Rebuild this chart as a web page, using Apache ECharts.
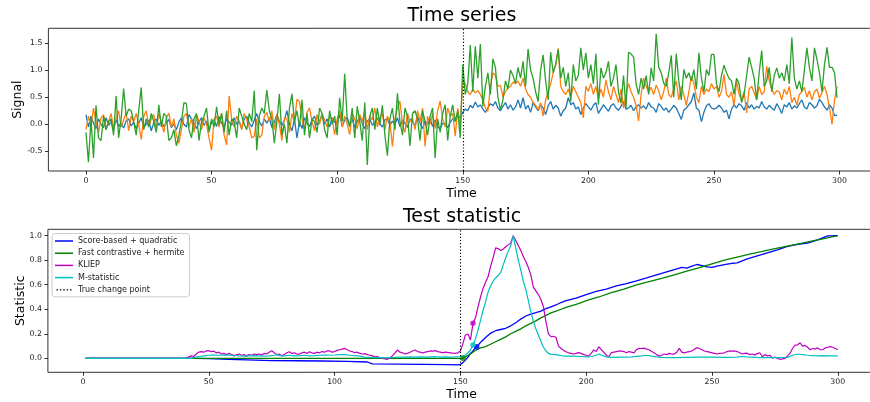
<!DOCTYPE html>
<html><head><meta charset="utf-8">
<script src="https://cdn.jsdelivr.net/npm/echarts@6/dist/echarts.min.js"></script>
<style>html,body{margin:0;padding:0;background:#fff}#c{width:870px;height:402px}</style>
</head><body><div id="c"></div>
<script>
// ---------- Top panel: time series (t = 0..299) ----------
const signalBlue = [
0.18,-0.05,0.15,0.02,-0.08,0.10,0.00,-0.06,0.12,-0.02,
0.05,-0.10,0.08,-0.04,0.02,-0.07,0.06,0.10,-0.03,0.04,
-0.08,0.02,0.12,-0.05,0.00,0.08,-0.12,0.03,0.10,-0.02,
0.06,-0.04,0.02,0.09,-0.06,0.01,-0.10,0.04,0.12,0.00,
-0.05,0.18,0.10,0.02,-0.08,0.05,0.12,-0.02,0.06,-0.10,
0.03,0.08,-0.04,0.14,0.02,-0.06,0.10,0.04,-0.02,0.12,
0.00,0.06,-0.08,0.10,0.15,0.02,-0.05,0.08,0.20,0.05,
-0.03,0.10,0.02,0.12,-0.06,0.04,0.18,0.06,-0.02,0.08,
0.25,0.00,-0.12,0.10,-0.25,0.05,-0.08,0.12,0.02,-0.04,
0.08,0.15,-0.02,0.06,0.18,0.00,0.10,-0.05,0.12,0.04,
0.02,0.18,-0.04,0.08,0.12,0.00,0.10,-0.06,0.05,0.14,
0.02,-0.08,0.06,0.10,-0.02,0.04,0.12,0.00,-0.05,0.08,
0.10,-0.02,0.06,0.00,0.12,-0.04,0.08,0.02,-0.06,0.10,
0.05,-0.02,0.14,0.02,-0.08,0.06,0.00,0.10,-0.04,0.08,
-0.05,-0.08,0.02,0.00,-0.06,0.04,0.10,0.06,0.18,0.12,
0.22,0.28,0.25,0.35,0.30,0.41,0.32,0.36,0.28,0.22,
0.30,0.38,0.34,0.42,0.30,0.25,0.33,0.40,0.28,0.36,
0.26,0.32,0.45,0.30,0.49,0.28,0.35,0.22,0.40,0.32,
0.25,0.36,0.30,0.18,0.34,0.42,0.28,0.35,0.30,0.15,
0.25,0.30,0.49,0.36,0.40,0.28,0.32,0.18,0.30,0.38,
0.32,0.26,0.35,0.40,0.20,0.28,0.36,0.30,0.24,0.34,
0.38,0.30,0.26,0.33,0.42,0.28,0.30,0.35,0.25,0.32,
0.36,0.30,0.34,0.28,0.40,0.32,0.30,0.22,0.38,0.33,
0.26,0.30,0.22,0.28,0.35,0.30,0.20,0.09,0.26,0.30,
0.36,0.42,0.58,0.30,0.26,0.05,0.22,0.34,0.38,0.30,
0.28,0.30,0.35,0.30,0.22,0.26,0.10,0.28,0.36,0.30,
0.38,0.34,0.26,0.40,0.30,0.36,0.28,0.33,0.30,0.42,
0.32,0.28,0.35,0.30,0.26,0.38,0.30,0.20,0.36,0.32,
0.40,0.28,0.34,0.30,0.38,0.45,0.32,0.28,0.40,0.36,
0.30,0.34,0.46,0.40,0.32,0.26,0.36,0.30,0.16,0.17
];
const signalOrange = [
-0.10,0.15,-0.05,0.30,0.05,-0.15,0.12,0.18,-0.10,0.05,
0.20,-0.08,0.10,0.25,-0.05,0.08,0.22,-0.12,0.15,0.05,
0.20,0.00,-0.28,0.15,0.25,-0.05,0.10,0.18,-0.10,0.20,
0.05,-0.15,0.12,0.20,-0.05,0.10,-0.20,-0.35,-0.10,0.15,
0.20,-0.05,0.10,-0.15,0.18,0.05,-0.10,0.12,0.00,-0.25,
-0.48,0.10,0.15,-0.05,0.20,-0.20,-0.38,0.52,0.10,-0.05,
0.15,0.05,-0.10,0.20,0.08,-0.05,-0.25,-0.22,0.10,-0.25,
-0.20,0.15,0.22,0.05,0.25,-0.10,0.18,0.00,-0.30,0.12,
0.10,-0.15,0.20,0.05,0.46,0.42,0.10,-0.10,0.22,0.30,
0.05,-0.12,0.18,0.00,0.20,0.08,-0.05,0.15,0.10,-0.19,
0.10,0.25,-0.05,0.15,0.00,-0.19,0.20,0.10,-0.08,0.18,
0.05,0.25,-0.10,0.15,0.08,0.30,-0.05,0.12,0.20,-0.10,
0.15,0.05,-0.41,0.10,0.30,0.43,0.00,-0.15,0.20,0.05,
0.12,-0.10,0.25,0.05,0.30,-0.41,0.15,0.00,0.20,-0.08,
0.25,0.43,0.10,-0.05,0.30,0.15,0.20,-0.22,0.30,-0.07,
0.82,0.75,0.60,0.55,0.65,0.58,0.62,0.55,0.45,0.30,
0.24,0.70,0.95,0.90,0.70,0.72,0.50,0.60,0.67,0.70,
0.78,0.75,0.80,0.70,0.85,0.65,0.55,0.50,0.40,0.35,
0.27,0.40,0.15,0.45,0.60,0.75,0.95,1.10,1.40,0.70,
0.60,0.55,0.65,0.50,0.70,0.60,0.50,0.40,0.12,0.70,
0.61,0.75,0.55,0.70,0.48,0.65,0.50,0.82,0.60,0.45,
0.70,0.55,0.40,0.65,0.30,0.55,0.75,0.60,0.50,0.35,
0.06,0.55,0.85,0.70,0.60,0.68,0.55,0.72,0.62,0.45,
0.60,0.85,0.55,0.50,0.65,0.80,0.45,0.70,0.55,0.35,
0.60,0.88,0.75,0.50,0.40,0.70,0.55,0.65,0.60,0.75,
0.65,0.70,0.50,0.60,0.92,0.55,0.50,0.60,0.35,0.80,
0.55,0.45,0.60,0.21,0.65,0.70,0.58,0.45,0.70,0.55,
0.60,1.07,0.80,0.65,0.55,0.62,0.60,0.45,0.65,0.55,
0.70,0.40,0.50,0.35,0.55,0.60,0.68,0.50,0.62,0.45,
0.60,0.65,0.48,0.58,0.70,0.55,0.30,0.00,0.45,0.70
];
const signalGreen = [
-0.15,-0.70,0.10,-0.62,0.35,-0.25,-0.30,0.15,-0.10,0.05,
0.10,-0.20,0.52,-0.25,0.10,0.66,0.15,0.28,0.25,0.05,
-0.20,0.25,0.68,-0.10,0.10,-0.05,0.20,0.05,-0.15,0.36,
-0.05,0.20,0.15,-0.30,-0.25,-0.10,-0.40,-0.20,0.05,0.40,
0.38,-0.10,-0.25,0.10,0.20,-0.30,0.05,0.15,0.30,-0.15,
0.10,-0.05,0.32,0.00,0.20,-0.15,0.25,-0.20,0.10,0.05,
-0.25,0.30,0.15,0.00,-0.10,0.20,0.05,0.62,-0.48,0.15,
0.30,0.20,0.63,0.25,0.10,-0.35,0.05,0.56,-0.20,0.00,
-0.35,0.30,0.56,0.05,0.25,-0.05,0.45,-0.20,0.20,-0.25,
0.10,0.05,-0.15,0.30,0.20,-0.10,-0.25,0.25,0.00,0.15,
-0.20,0.49,0.05,0.93,0.10,-0.05,0.30,-0.25,0.33,0.05,
-0.30,0.40,-0.75,0.15,0.30,-0.10,0.30,0.00,0.35,-0.20,
-0.58,0.10,0.30,-0.10,0.57,0.05,-0.20,0.30,0.15,-0.40,
0.20,0.25,0.10,-0.30,0.25,0.05,-0.20,0.15,0.30,-0.62,
0.10,-0.15,0.20,0.36,-0.30,0.15,0.36,0.05,0.25,-0.25,
1.10,0.55,0.75,1.46,0.60,1.44,0.85,1.48,0.33,0.70,
0.95,0.55,1.21,1.05,0.50,0.27,0.45,0.80,0.65,1.00,
0.90,0.75,1.05,0.85,1.16,0.70,1.39,1.00,0.85,0.60,
0.42,1.00,1.28,0.80,0.45,1.33,0.95,1.10,1.38,0.85,
1.05,0.70,0.95,0.42,1.10,0.80,0.90,1.41,1.00,1.32,
0.85,1.10,0.75,1.30,0.36,1.04,0.85,0.95,1.16,0.70,
0.85,1.10,0.60,0.39,0.90,0.30,1.33,1.30,1.24,0.75,
0.55,0.85,0.65,0.90,0.55,1.04,0.80,1.67,1.05,0.95,
0.76,0.70,0.95,1.27,0.50,1.30,0.80,0.45,1.01,0.85,
0.95,0.80,1.01,0.65,1.32,0.85,0.60,1.01,0.90,1.29,
1.29,0.75,0.60,0.90,1.09,0.95,0.85,0.80,0.55,0.85,
0.75,0.40,0.55,0.90,1.24,1.05,0.85,0.45,0.95,1.36,
0.70,0.80,1.05,0.60,0.90,1.04,0.85,0.95,0.80,1.10,
0.75,1.60,0.85,0.65,0.80,0.60,1.00,1.41,1.05,0.80,
1.41,1.20,0.95,0.60,1.10,1.42,1.05,1.05,0.95,0.49
];
const timeTicks = [0,50,100,150,200,250,300];
const signalTicks = [-0.5,0,0.5,1,1.5];
const statTicks = [0,0.2,0.4,0.6,0.8,1.0];
const changePoint = 150;

// ---------- Bottom panel: test statistic, [time, value] ----------
const scoreBased = [[1,0],[44,0],[50,-0.003],[58,-0.008],[65,-0.012],[75,-0.018],[85,-0.02],[95,-0.022],[105,-0.025],[113,-0.03],[115,-0.046],[125,-0.048],[135,-0.05],[145,-0.052],[149,-0.054],[150,-0.05],[151,-0.035],[152,-0.015],[153,0.01],[154,0.04],[155,0.06],[156,0.09],[157,0.105],[158,0.13],[159,0.15],[160,0.17],[162,0.205],[164,0.225],[166,0.235],[168,0.245],[170,0.265],[172,0.29],[174,0.32],[176,0.345],[178,0.36],[180,0.372],[182,0.385],[184,0.405],[186,0.42],[188,0.435],[190,0.455],[192,0.47],[194,0.48],[196,0.49],[198,0.505],[200,0.52],[204,0.545],[208,0.565],[212,0.59],[216,0.61],[220,0.632],[224,0.655],[228,0.68],[232,0.705],[236,0.73],[238,0.742],[240,0.735],[242,0.752],[244,0.765],[246,0.755],[248,0.745],[250,0.742],[252,0.752],[254,0.76],[256,0.768],[258,0.775],[260,0.778],[264,0.81],[268,0.835],[272,0.86],[276,0.885],[280,0.912],[284,0.93],[288,0.94],[292,0.965],[296,0.998],[300,1.0]];
const fastContrastive = [[1,0],[150,0],[151,0.0],[152,0.012],[154,0.035],[156,0.065],[158,0.085],[160,0.095],[162,0.115],[164,0.135],[166,0.155],[168,0.175],[170,0.2],[172,0.22],[174,0.24],[176,0.265],[178,0.285],[180,0.305],[182,0.33],[184,0.35],[186,0.37],[188,0.385],[190,0.4],[192,0.415],[194,0.428],[196,0.44],[198,0.455],[200,0.47],[205,0.5],[210,0.535],[215,0.565],[220,0.598],[225,0.625],[230,0.652],[235,0.68],[240,0.71],[245,0.74],[250,0.77],[255,0.8],[260,0.825],[265,0.85],[270,0.872],[275,0.895],[280,0.915],[285,0.935],[290,0.958],[295,0.978],[300,1.0]];
const kliep = [[1,0],[41,0],[42,0.012],[43,0.02],[44,0.015],[45,0.035],[46,0.05],[47,0.055],[48,0.05],[49,0.06],[50,0.062],[51,0.055],[52,0.058],[53,0.045],[54,0.05],[55,0.035],[56,0.04],[57,0.03],[58,0.042],[59,0.03],[60,0.02],[61,0.028],[62,0.035],[63,0.025],[64,0.03],[65,0.02],[66,0.03],[67,0.025],[68,0.035],[69,0.03],[70,0.035],[71,0.028],[72,0.04],[73,0.035],[74,0.05],[75,0.062],[76,0.045],[77,0.03],[78,0.035],[79,0.02],[80,0.03],[81,0.045],[82,0.054],[83,0.04],[84,0.045],[85,0.035],[86,0.035],[87,0.045],[88,0.05],[89,0.04],[90,0.054],[91,0.045],[92,0.04],[93,0.05],[94,0.045],[95,0.055],[96,0.05],[97,0.06],[98,0.06],[99,0.05],[100,0.055],[101,0.065],[102,0.07],[103,0.075],[104,0.081],[105,0.07],[106,0.06],[107,0.055],[108,0.046],[109,0.05],[110,0.04],[111,0.035],[112,0.038],[113,0.03],[114,0.025],[115,0.02],[116,0.013],[117,0.015],[118,0.005],[119,0.0],[120,-0.005],[121,-0.008],[122,0.005],[123,0.02],[124,0.045],[125,0.068],[126,0.05],[127,0.045],[128,0.035],[129,0.04],[130,0.05],[131,0.06],[132,0.068],[133,0.055],[134,0.05],[135,0.045],[136,0.05],[137,0.055],[138,0.06],[139,0.058],[140,0.063],[141,0.055],[142,0.05],[143,0.045],[144,0.05],[145,0.048],[146,0.045],[147,0.042],[148,0.04],[149,0.045],[150,0.06],[151,0.12],[152,0.19],[153,0.198],[154,0.15],[155,0.285],[156,0.33],[157,0.42],[158,0.5],[159,0.57],[160,0.62],[161,0.665],[162,0.75],[163,0.82],[164,0.9],[165,0.895],[166,0.88],[167,0.89],[168,0.91],[169,0.925],[170,0.94],[171,1.0],[172,0.96],[173,0.92],[174,0.88],[175,0.83],[176,0.79],[177,0.74],[178,0.68],[179,0.58],[180,0.55],[181,0.52],[182,0.48],[183,0.42],[184,0.3],[185,0.2],[186,0.176],[187,0.18],[188,0.17],[189,0.1],[190,0.08],[191,0.065],[192,0.054],[193,0.045],[194,0.04],[195,0.035],[196,0.04],[197,0.046],[198,0.04],[199,0.03],[200,0.025],[201,0.018],[202,0.04],[203,0.068],[204,0.055],[205,0.095],[206,0.07],[207,0.05],[208,0.025],[209,0.013],[210,0.046],[211,0.05],[212,0.055],[213,0.06],[214,0.058],[215,0.055],[216,0.045],[217,0.055],[218,0.05],[219,0.045],[220,0.07],[221,0.081],[222,0.08],[223,0.083],[224,0.075],[225,0.07],[226,0.055],[227,0.045],[228,0.03],[229,0.018],[230,0.025],[231,0.035],[232,0.03],[233,0.04],[234,0.035],[235,0.035],[236,0.05],[237,0.081],[238,0.05],[239,0.045],[240,0.05],[241,0.055],[242,0.06],[243,0.075],[244,0.087],[245,0.08],[246,0.07],[247,0.06],[248,0.055],[249,0.05],[250,0.045],[251,0.04],[252,0.035],[253,0.04],[254,0.042],[255,0.045],[256,0.055],[257,0.06],[258,0.058],[259,0.06],[260,0.055],[261,0.045],[262,0.035],[263,0.04],[264,0.042],[265,0.03],[266,0.035],[267,0.028],[268,0.038],[269,0.045],[270,0.013],[271,0.03],[272,0.02],[273,0.025],[274,0.002],[275,0.01],[276,0.0],[277,-0.008],[278,-0.005],[279,0.0],[280,0.02],[281,0.04],[282,0.08],[283,0.108],[284,0.11],[285,0.127],[286,0.1],[287,0.105],[288,0.09],[289,0.07],[290,0.08],[291,0.075],[292,0.085],[293,0.07],[294,0.07],[295,0.085],[296,0.09],[297,0.095],[298,0.09],[299,0.08],[300,0.07]];
const mStatistic = [[1,0],[43,0],[44,0.005],[45,0.01],[46,0.015],[48,0.02],[50,0.025],[52,0.027],[54,0.025],[56,0.027],[58,0.026],[60,0.025],[62,0.02],[64,0.018],[66,0.02],[68,0.022],[70,0.02],[72,0.018],[74,0.02],[76,0.025],[77,0.03],[78,0.022],[80,0.02],[82,0.025],[84,0.02],[86,0.022],[88,0.025],[90,0.02],[92,0.022],[94,0.025],[96,0.027],[98,0.025],[100,0.027],[102,0.03],[104,0.03],[106,0.025],[108,0.022],[110,0.018],[112,0.01],[114,0.008],[116,0.006],[118,0.005],[120,0.004],[122,0.005],[124,0.008],[126,0.01],[128,0.01],[130,0.012],[132,0.01],[134,0.012],[136,0.01],[138,0.012],[140,0.013],[142,0.01],[144,0.012],[146,0.01],[148,0.012],[150,0.015],[151,0.02],[152,0.027],[153,0.045],[154,0.068],[155,0.108],[156,0.16],[157,0.23],[158,0.31],[159,0.39],[160,0.46],[161,0.54],[162,0.59],[163,0.63],[164,0.655],[165,0.675],[166,0.7],[167,0.76],[168,0.82],[169,0.87],[170,0.92],[171,1.0],[172,0.9],[173,0.8],[174,0.72],[175,0.63],[176,0.56],[177,0.47],[178,0.38],[179,0.3],[180,0.24],[181,0.19],[182,0.14],[183,0.09],[184,0.06],[185,0.04],[186,0.032],[188,0.03],[190,0.022],[192,0.018],[195,0.018],[198,0.015],[200,0.012],[202,0.015],[204,0.025],[205,0.035],[206,0.025],[208,0.012],[210,0.008],[214,0.01],[218,0.012],[222,0.02],[224,0.025],[226,0.018],[228,0.012],[230,0.008],[235,0.006],[240,0.008],[245,0.01],[250,0.01],[255,0.008],[260,0.01],[262,0.015],[264,0.012],[268,0.008],[272,0.006],[276,0.005],[280,0.008],[282,0.025],[284,0.035],[286,0.03],[288,0.025],[290,0.022],[292,0.02],[294,0.022],[296,0.02],[298,0.02],[300,0.02]];
// detection points [time, value]
const detectScore = [[156.5,0.095]];
const detectFast = [[151,0.0]];
const detectKliep = [[155,0.285]];
const detectM = [[155,0.108]];

const FONT = 'DejaVu Sans';
const chart = echarts.init(document.getElementById('c'), null, {renderer:'canvas'});

function xAx(gi, min, max){
  return {type:'value', gridIndex:gi, min:min, max:max,
    name:'Time', nameLocation:'middle', nameGap:16, nameMoveOverlap:false,
    nameTextStyle:{fontFamily:FONT, fontSize:12.5, color:'#000'},
    axisLine:{show:false, onZero:false}, splitLine:{show:false},
    axisTick:{show:true, length:3.5, lineStyle:{color:'#000', width:0.8}, customValues:timeTicks},
    axisLabel:{fontFamily:FONT, fontSize:7.8, color:'#222', margin:5.5, customValues:timeTicks}};
}
function yAx(gi, min, max, ticks, name, gap, fmt){
  return {type:'value', gridIndex:gi, min:min, max:max,
    name:name, nameLocation:'middle', nameGap:gap, nameRotate:90, nameMoveOverlap:false,
    nameTextStyle:{fontFamily:FONT, fontSize:12.5, color:'#000'},
    axisLine:{show:false, onZero:false}, splitLine:{show:false},
    axisTick:{show:true, length:3.5, lineStyle:{color:'#000', width:0.8}, customValues:ticks},
    axisLabel:{fontFamily:FONT, fontSize:7.8, color:'#222', margin:6, customValues:ticks, formatter:fmt}};
}
const toPairs = arr => arr.map((v,i)=>[i,v]);
function tsLine(name, data, color){
  return {name:name, type:'line', xAxisIndex:0, yAxisIndex:0, data:toPairs(data),
    showSymbol:false, symbol:'none', lineStyle:{color:color, width:1.3}, itemStyle:{color:color}, z:2, silent:true};
}
function stLine(name, data, color, w){
  return {name:name, type:'line', xAxisIndex:1, yAxisIndex:1, data:data,
    showSymbol:false, symbol:'none', lineStyle:{color:color, width:w}, itemStyle:{color:color}, z:2, silent:true};
}
function dot(data, color){
  return {type:'scatter', xAxisIndex:1, yAxisIndex:1, data:data, symbolSize:5.5,
    itemStyle:{color:color}, z:5, silent:true};
}
const vline = () => ({data:[{xAxis:changePoint}], symbol:'none', silent:true, label:{show:false},
  lineStyle:{color:'#000', type:[1.2,2], width:1.1}, animation:false});

const dottedIcon = 'path://M0,0h2v2h-2z M4.5,0h2v2h-2z M9,0h2v2h-2z M13.5,0h2v2h-2z M18,0h2v2h-2z';

chart.setOption({
  animation:false,
  backgroundColor:'#fff',
  grid:[
    {left:48.4, top:28.3, width:826.2, height:142.7, show:true, borderColor:'#333', borderWidth:1, outerBoundsMode:'none', containLabel:false},
    {left:47.9, top:229.3, width:827.5, height:143, show:true, borderColor:'#333', borderWidth:1, outerBoundsMode:'none', containLabel:false}
  ],
  xAxis:[xAx(0,-14.95,313.95), xAx(1,-13.95,314.95)],
  yAxis:[
    yAx(0,-0.862,1.771,signalTicks,'Signal', 24, v=>v.toFixed(1)),
    yAx(1,-0.114,1.052,statTicks,'Statistic', 20.5, v=>v.toFixed(1))
  ],
  legend:{
    data:[
      {name:'Score-based + quadratic', icon:'rect'},
      {name:'Fast contrastive + hermite', icon:'rect'},
      {name:'KLIEP', icon:'rect'},
      {name:'M-statistic', icon:'rect'},
      {name:'True change point', icon:dottedIcon}
    ],
    orient:'vertical', left:52, top:233.5, itemWidth:18, itemHeight:1.5, itemGap:2.2,
    padding:[2.5,5,2,3], backgroundColor:'rgba(255,255,255,0.8)', borderColor:'#cccccc', borderWidth:1, borderRadius:3,
    textStyle:{fontFamily:FONT, fontSize:8, color:'#222', lineHeight:10, padding:[0,0,0,0]},
    selectedMode:false
  },
  graphic:[
    {type:'text', x:462, y:16, style:{text:'Time series', fontFamily:FONT, fontSize:19, fill:'#000', textAlign:'center', textVerticalAlign:'middle'}},
    {type:'text', x:462, y:217, style:{text:'Test statistic', fontFamily:FONT, fontSize:19, fill:'#000', textAlign:'center', textVerticalAlign:'middle'}}
  ],
  series:[
    tsLine('s1', signalBlue, '#1f77b4'),
    tsLine('s2', signalOrange, '#ff7f0e'),
    tsLine('s3', signalGreen, '#2ca02c'),
    {name:'cp-top', type:'line', xAxisIndex:0, yAxisIndex:0, data:[], markLine:vline()},
    stLine('Score-based + quadratic', scoreBased, '#0000ff', 1.3),
    stLine('Fast contrastive + hermite', fastContrastive, '#008000', 1.3),
    stLine('KLIEP', kliep, '#bf00bf', 1.2),
    stLine('M-statistic', mStatistic, '#00bfbf', 1.2),
    {name:'True change point', type:'line', xAxisIndex:1, yAxisIndex:1, data:[], symbol:'none',
      lineStyle:{color:'#000', type:[1.2,2], width:1.1}, itemStyle:{color:'#333'}, markLine:vline()},
    dot(detectScore, '#0000ff'),
    dot(detectFast, '#008000'),
    dot(detectKliep, '#bf00bf'),
    dot(detectM, '#00bfbf')
  ]
});
</script></body></html>
